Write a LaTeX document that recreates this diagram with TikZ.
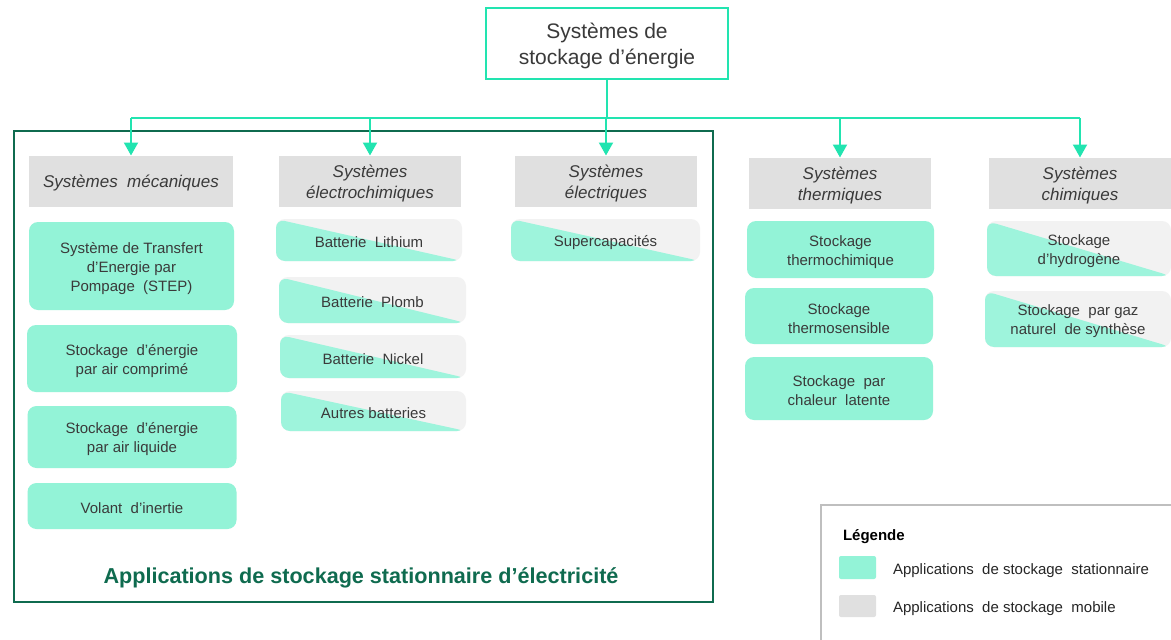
\documentclass[tikz,border=0pt]{standalone}
\usepackage{fontspec}
\setmainfont{Liberation Sans}
\usetikzlibrary{arrows.meta}
\definecolor{linec}{HTML}{22E4B0}
\definecolor{statf}{HTML}{93F3D7}
\definecolor{mixt}{HTML}{9EF4DC}
\definecolor{mixg}{HTML}{F2F2F2}
\definecolor{headg}{HTML}{E0E0E0}
\definecolor{frameg}{HTML}{0F6B4F}
\definecolor{txt}{HTML}{3A3A3A}
\definecolor{legb}{HTML}{BFBFBF}
\tikzset{
  every node/.style={text=txt, inner sep=0pt, outer sep=0pt},
  topbox/.style={draw=linec, line width=2pt, fill=white},
  topfont/.style={align=center, font=\fontsize{21}{26}\selectfont},
  head/.style={fill=headg},
  headfont/.style={align=center, font=\fontsize{17}{21}\selectfont\itshape},
  stat/.style={fill=statf, rounded corners=9pt},
  boxfont/.style={align=center, font=\fontsize{15}{19}\selectfont},
  mixed/.style={fill=mixg, rounded corners=9pt,
     path picture={\fill[mixt] (path picture bounding box.north west) --
        (path picture bounding box.south east) --
        (path picture bounding box.south west) -- cycle;}},
  conn/.style={draw=linec, line width=2pt},
  arr/.style={draw=linec, line width=2pt, -{Triangle[width=14pt,length=13pt]}},
  legtext/.style={anchor=west, font=\fontsize{15}{18}\selectfont, text=black!85},
}
% #1 box style, #2 text style, #3 name, #4 position, #5 width, #6 height, #7 text
\newcommand{\bx}[7]{%
  \node[#1, minimum width=#5pt, minimum height=#6pt] (#3) at #4 {};
  \node[#2] (#3-t) at ([yshift=-2.5pt]#3.center) {#7};}
\begin{document}
\begin{tikzpicture}[x=1pt,y=-1pt]
\clip (0,0) rectangle (1171,640);
\fill[white] (0,0) rectangle (1171,640);
% frame
\draw[frameg, line width=2.2pt] (14,131) rectangle (713,602);
\node[font=\fontsize{21.6}{24}\selectfont\bfseries, text=frameg] (flabel) at (361,578)
  {Applications de stockage stationnaire d’électricité};
% top
\bx{topbox}{topfont}{top}{(607,43.5)}{242}{71}{Systèmes de\\stockage d’énergie}
% headers
\bx{head}{headfont}{h1}{(131,181)}{204}{51}{Systèmes\ \ mécaniques}
\bx{head}{headfont}{h2}{(370,181)}{182}{51}{Systèmes\\électrochimiques}
\bx{head}{headfont}{h3}{(606,181)}{182}{51}{Systèmes\\électriques}
\bx{head}{headfont}{h4}{(840,183)}{182}{51}{Systèmes\\thermiques}
\bx{head}{headfont}{h5}{(1080,183)}{182}{51}{Systèmes\\chimiques}
% connectors
\coordinate (bus) at (0,118);
\draw[conn] (top.south) -- (top.south |- bus);
\draw[conn] (h1.north |- bus) -- (h5.north |- bus);
\foreach \h in {h1,h2,h3,h4,h5} {\draw[arr] (\h.north |- bus) -- (\h.north);}
% mechanical
\bx{stat}{boxfont}{m1}{(131.5,266)}{205}{88}{Système de Transfert\\d’Energie par\\Pompage\ \ (STEP)}
\bx{stat}{boxfont}{m2}{(132,358.5)}{210}{67}{Stockage\ \ d’énergie\\par air comprimé}
\bx{stat}{boxfont}{m3}{(132,437)}{209}{62}{Stockage\ \ d’énergie\\par air liquide}
\bx{stat}{boxfont}{m4}{(132,506)}{209}{46}{Volant\ \ d’inertie}
% electrochemical
\bx{mixed}{boxfont}{e1}{(369,240)}{186}{42}{Batterie\ \ Lithium}
\bx{mixed}{boxfont}{e2}{(372.5,300)}{187}{46}{Batterie\ \ Plomb}
\bx{mixed}{boxfont}{e3}{(373,356.5)}{186}{43}{Batterie\ \ Nickel}
\bx{mixed}{boxfont}{e4}{(373.5,411)}{185}{40}{Autres batteries}
% electrical
\bx{mixed}{boxfont}{s1}{(605.5,240)}{189}{42}{Supercapacités}
% thermal
\bx{stat}{boxfont}{t1}{(840.5,249.5)}{187}{57}{Stockage\\thermochimique}
\bx{stat}{boxfont}{t2}{(839,316)}{188}{56}{Stockage\\thermosensible}
\bx{stat}{boxfont}{t3}{(839,388.5)}{188}{63}{Stockage\ \ par\\chaleur\ \ latente}
% chemical
\bx{mixed}{boxfont}{c1}{(1079,248.5)}{184}{55}{Stockage\\d’hydrogène}
\bx{mixed}{boxfont}{c2}{(1078,319)}{186}{56}{Stockage\ \ par gaz\\naturel\ \ de synthèse}
% legend
\draw[legb, line width=2pt] (821,505) rectangle (1180,650);
\node[legtext, font=\fontsize{15}{18}\selectfont\bfseries, text=black] (legt) at (843,537) {Légende};
\node[fill=statf, rounded corners=2pt, minimum width=37pt, minimum height=23pt] (sw1) at (857.5,567.5) {};
\node[fill=headg, rounded corners=2pt, minimum width=37pt, minimum height=22pt] (sw2) at (857.5,606) {};
\node[legtext] (l1) at (893,571) {Applications\ \ de stockage\ \ stationnaire};
\node[legtext] (l2) at (893,609) {Applications\ \ de stockage\ \ mobile};
\end{tikzpicture}
\end{document}
